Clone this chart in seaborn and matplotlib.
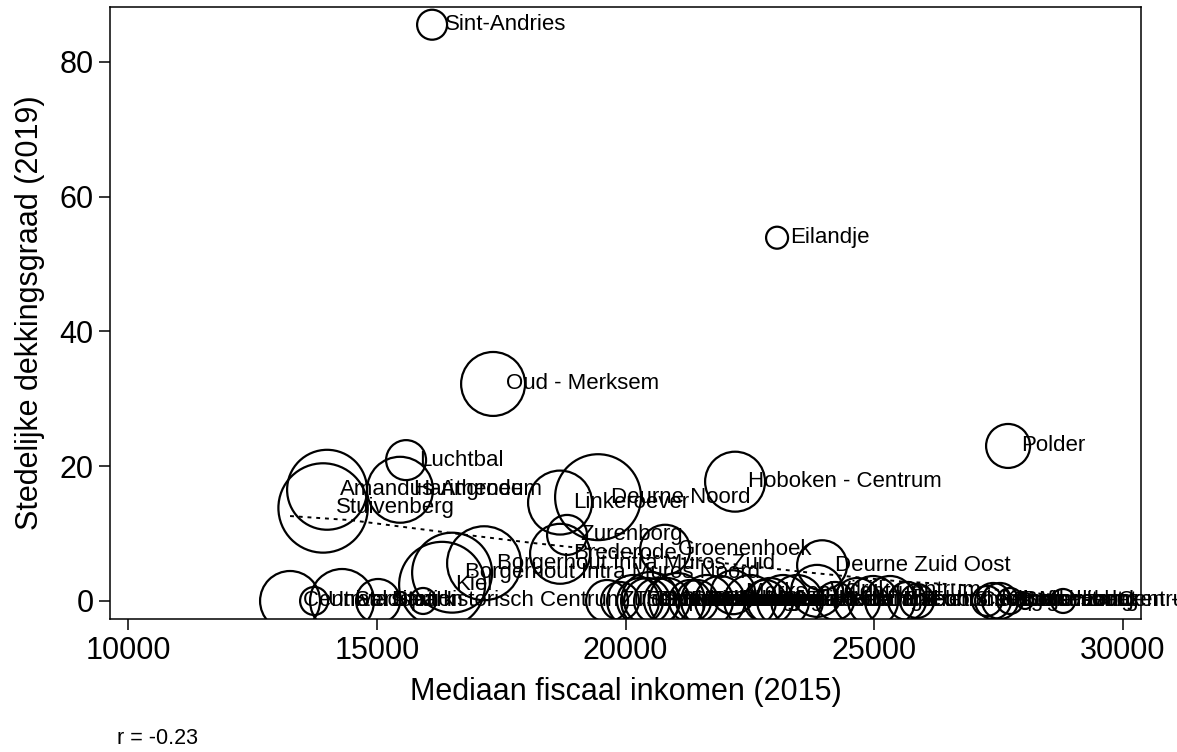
import numpy as np
import pandas as pd
import seaborn as sns
import matplotlib.pyplot as plt

# wijken with a non-zero coverage
wijk = ["Sint-Andries", "Eilandje", "Oud - Merksem", "Polder", "Luchtbal",
        "Hoboken - Centrum", "Amandus-Atheneum", "Stuivenberg", "Haringrode",
        "Linkeroever", "Deurne Noord", "Zurenborg", "Brederode", "Groenenhoek",
        "Borgerhout Intra Muros Zuid", "Borgerhout Intra Muros Noord", "Kiel",
        "Deurne Zuid Oost"]
inkomen = [16111, 23045, 17337, 27688, 15588,
           22201, 14000, 13920, 15467,
           18683, 19447, 18824, 18683, 20794,
           17156, 16513, 16312,
           23950]
dekking = [85.5, 53.9, 32.2, 23.0, 20.9,
           17.7, 16.5, 13.8, 16.5,
           14.6, 15.4, 9.8, 7.0, 7.6,
           5.6, 4.2, 2.4,
           5.3]
inwoners = [2250, 1210, 10240, 4840, 4000,
            9000, 16000, 20250, 10890,
            10240, 18490, 4000, 9000, 6250,
            13690, 16000, 18490,
            6250]

# wijken at (almost) zero coverage
wijk0 = ["Centraal Station", "Universiteit", "Stadspark", "Dam", "Historisch Centrum",
         "Zuid", "Theaterbuurt", "Schipperskwartier", "Tentoonstellingswijk", "Oud-Berchem",
         "Sint-Willibrordus", "Moretusburg", "Sint-Bernardse Heide", "Rivierenhof", "Boekenberg",
         "Te Boelaer", "Silsburg", "Sint-Jan", "Merksem Centrum", "Bist",
         "Kristus-Koning", "Oude God", "Valaar", "Elsdonk", "Wilrijk Centrum",
         "Neerland", "Lambrechtshoek", "Donk", "Ekeren Centrum", "Schoonselhof",
         "Fort 8", "Kapelsestraat", "Vogelenzang", "Sorghvliedt", "Berchem Centrum",
         "Mariaburg", "Hoboken - West"]
inkomen0 = [13256, 13739, 14301, 15025, 15930,
            19628, 19889, 20151, 20291, 20432,
            20492, 20633, 20834, 21035, 21296,
            21437, 21638, 21899, 22161, 22503,
            22804, 22905, 23166, 23447, 23849,
            24211, 24653, 24975, 25316, 25658,
            25859, 27266, 27387, 27527, 27728,
            28030, 28794]
dekking0 = [0, 0, 0, 0, 0,
            0, 0, 0, 0, 0,
            0, 0, 0, 0, 0,
            0, 0, 0, 1.3, 0,
            0, 0, 0, 0, 1.5,
            0, 0, 0, 0, 0,
            0, 0, 0, 0, 0,
            0, 0]
inwoners0 = [9000, 1960, 10240, 4840, 1690,
             4410, 3610, 6760, 5290, 5290,
             8410, 5290, 5290, 7840, 4410,
             4410, 6760, 6250, 4840, 6760,
             4410, 5290, 6760, 6760, 6760,
             3610, 5290, 6250, 6250, 3610,
             2890, 2250, 3240, 3240, 1690,
             640, 1440]

# fitted line
fit_inkomen = [13256, 14462, 16472, 18141, 21497, 23709, 25518, 26724, 27528, 28794]
fit_dekking = [12.6, 12.0, 10.1, 8.6, 6.0, 4.2, 2.9, 2.4, 1.6, 0.8]

df = pd.DataFrame({
    "wijk": wijk + wijk0,
    "inkomen": inkomen + inkomen0,
    "dekking": dekking + dekking0,
    "inwoners": inwoners + inwoners0,
})

sns.set_style("white")
plt.rcParams['font.family'] = ['Liberation Sans', 'DejaVu Sans']
plt.rcParams['text.color'] = 'black'
plt.rcParams['axes.labelcolor'] = 'black'
plt.rcParams['xtick.color'] = 'black'
plt.rcParams['ytick.color'] = 'black'

fig = plt.figure(figsize=(11.77, 7.52), dpi=100)
ax = fig.add_axes([0.0935, 0.1769, 0.876, 0.8138])

sns.scatterplot(data=df, x="inkomen", y="dekking", size="inwoners",
                sizes=(0, 4140), size_norm=(0, 20000), color="black",
                linewidth=1.6, legend=False, ax=ax)
ax.collections[0].set_facecolor("none")
ax.collections[0].set_edgecolor("black")

sns.lineplot(x=fit_inkomen, y=fit_dekking, color="black", linewidth=1.4,
             linestyle=(0, (2, 2.5)), ax=ax)

for _, row in df.iterrows():
    ax.annotate(row["wijk"], (row["inkomen"], row["dekking"]), xytext=(9.4, 0),
                textcoords="offset points", va="center", ha="left", fontsize=16,
                color="black", annotation_clip=False)

ax.set_xlim(9638, 30362)
ax.set_ylim(-2.67, 88.13)
ax.set_xticks([10000, 15000, 20000, 25000, 30000])
ax.set_yticks([0, 20, 40, 60, 80])
ax.tick_params(direction="out", length=8, width=1.1, labelsize=22, pad=4,
               bottom=True, left=True, color="black", labelcolor="black")
for s in ax.spines.values():
    s.set_linewidth(1.1)
    s.set_color("black")

ax.set_xlabel("Mediaan fiscaal inkomen (2015)", fontsize=22, labelpad=8)
ax.set_ylabel("Stedelijke dekkingsgraad (2019)", fontsize=22, labelpad=10)

fig.text(117 / 1177, 1 - 738 / 752, "r = -0.23", fontsize=15.5, va="center", ha="left")

fig.savefig("out.png", dpi=100)
